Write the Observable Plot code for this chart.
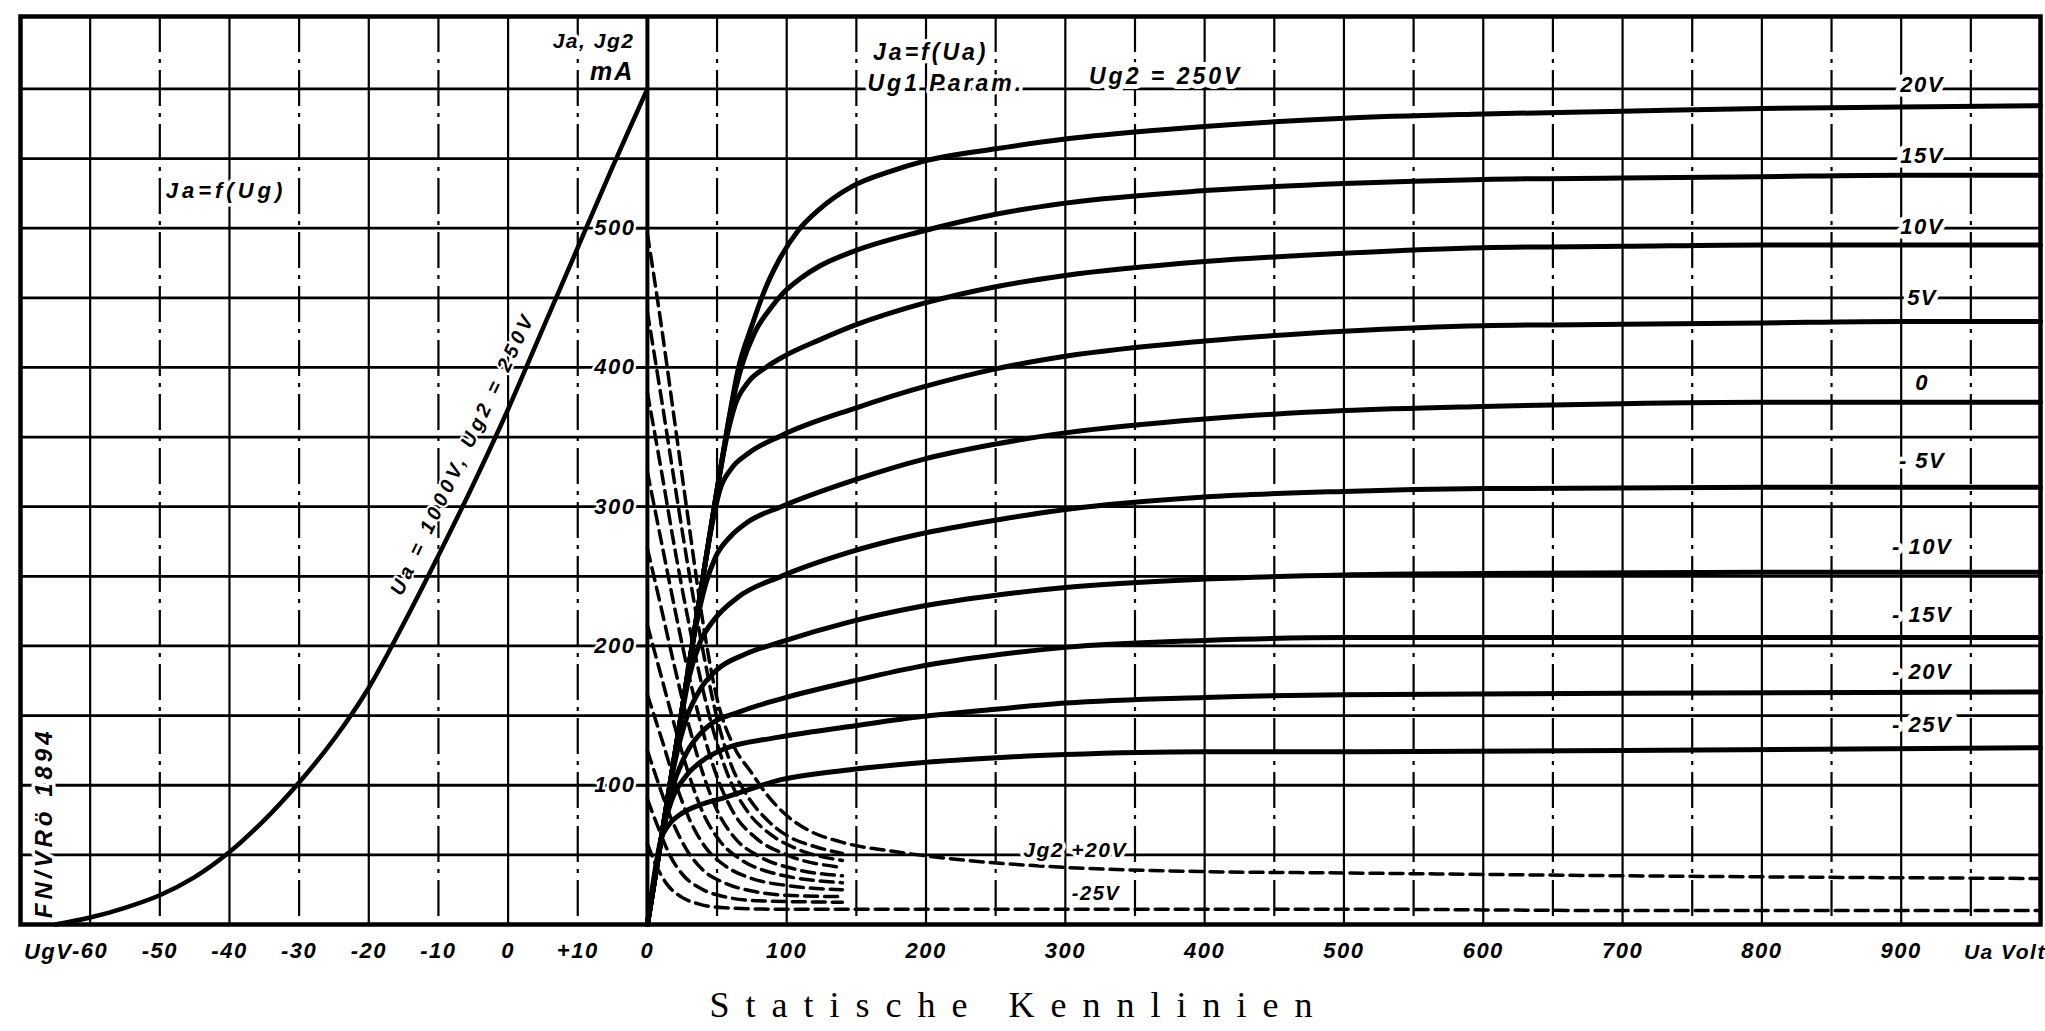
<!DOCTYPE html>
<html>
<head>
<meta charset="utf-8">
<script src="https://cdn.jsdelivr.net/npm/d3@7"></script>
<script src="https://cdn.jsdelivr.net/npm/@observablehq/plot@0.6"></script>
<style>
  html, body { margin: 0; padding: 0; background: #fff; overflow: hidden; width: 2045px; height: 1031px; }
  #chart { position: absolute; left: 0; top: 0; }
  #title { position: absolute; top: 984px; left: 1019px; transform: translateX(-50%); white-space: nowrap;
           font-family: "Liberation Serif", "DejaVu Serif", serif; font-size: 36px; letter-spacing: 16px; color: #000; }
</style>
</head>
<body>
<div id="chart"></div>
<div id="title">Statische Kennlinien</div>
<script>
// ---------- data ----------
// Left panel: Ja = f(Ug)  (Ua = 1000 V, Ug2 = 250 V)
const ugPoints = [-65, -60, -55, -50, -45, -40, -35, -30, -25, -20, -15, -10, -5, 0, 5, 10, 15, 20];
const jaOfUg   = [0, 5, 12, 21, 34, 52, 75, 102, 133, 170, 216, 265, 316, 370, 428, 486, 544, 600];

// Right panel: Ja = f(Ua), Ug1 parameter  [Ua (V), Ja (mA)]
const ug1Levels = [20, 15, 10, 5, 0, -5, -10, -15, -20, -25];
const ja_p20 = [[0,0],[10,62],[25,155],[40,250],[50,312],[58,360],[65,398],[75,430],[84,455],[95,478],[108,498],[124,514],[147,530],[175,541],[198,548],[250,557],[300,564],[350,569],[400,573],[500,579],[600,582],[700,584],[800,586],[900,587],[1000,588]];
const ja_p15 = [[0,0],[10,62],[25,155],[40,250],[50,312],[60,370],[68,402],[77,425],[88,442],[98,454],[110,464],[124,473],[147,483],[198,498],[250,510],[300,518],[400,527],[500,532],[600,535],[700,536],[800,537],[900,538],[1000,538]];
const ja_p10 = [[0,0],[10,62],[25,155],[40,250],[50,312],[57,350],[63,373],[72,389],[85,400],[98,408],[124,420],[148,430],[198,446],[250,458],[300,466],[400,476],[500,482],[600,486],[700,487],[800,488],[900,488],[1000,488]];
const ja_p5  = [[0,0],[10,62],[25,155],[40,250],[46,285],[52,312],[60,327],[72,338],[96,351],[150,371],[198,386],[250,399],[300,408],[400,419],[500,426],[600,430],[700,431],[800,432],[900,433],[1000,433]];
const ja_0   = [[0,0],[10,62],[25,155],[35,215],[42,245],[49,264],[60,279],[72,289],[96,300],[151,320],[198,334],[250,345],[300,353],[400,363],[500,369],[600,372],[700,374],[800,375],[900,375],[1000,375]];
const ja_m5  = [[0,0],[10,62],[22,135],[30,178],[38,203],[48,219],[65,235],[96,250],[144,267],[194,280],[254,291],[300,298],[400,307],[500,311],[600,313],[800,314],[1000,314]];
const ja_m10 = [[0,0],[10,62],[20,118],[28,148],[38,169],[50,183],[70,194],[96,203],[144,217],[194,228],[254,237],[300,242],[400,248],[500,251],[600,252],[800,253],[1000,253]];
const ja_m15 = [[0,0],[10,62],[18,98],[28,123],[42,141],[67,153],[96,162],[144,174],[194,185],[254,194],[300,199],[400,204],[500,206],[700,206],[1000,206]];
const ja_m20 = [[0,0],[10,62],[17,88],[28,107],[40,118],[55,126],[91,134],[144,142],[194,149],[254,155],[300,159],[400,163],[500,165],[700,166],[1000,167]];
const ja_m25 = [[0,0],[10,62],[15,71],[25,80],[38,86],[55,91],[96,104],[144,111],[194,116],[254,120],[300,122],[400,124],[500,124],[700,125],[1000,127]];
const jaSeries = [ja_p20, ja_p15, ja_p10, ja_p5, ja_0, ja_m5, ja_m10, ja_m15, ja_m20, ja_m25];

// Screen-grid current Jg2 = f(Ua) (dashed)  [Ua (V), Jg2 (mA)]
const jg2_p20 = [[0,496],[10,430],[20,358],[30,286],[40,216],[50,162],[62,128],[74,110],[86,93],[98,80],[115,68],[140,59],[180,52],[230,46],[300,41],[400,38],[500,37],[700,35],[1000,33]];
const jg2_p15 = [[0,440],[10,378],[20,314],[30,252],[40,196],[50,148],[60,115],[72,92],[86,75],[100,64],[120,56],[140,51]];
const jg2_p10 = [[0,382],[10,326],[20,268],[30,215],[40,168],[50,130],[60,102],[72,81],[88,65],[108,54],[140,46]];
const jg2_p5  = [[0,325],[10,275],[20,225],[30,178],[40,138],[50,106],[62,80],[78,62],[100,50],[140,41]];
const jg2_0   = [[0,270],[10,227],[20,183],[30,142],[40,108],[50,82],[62,63],[80,49],[105,40],[140,35]];
const jg2_m5  = [[0,215],[10,178],[20,141],[30,107],[40,80],[52,60],[68,46],[90,37],[140,30]];
const jg2_m10 = [[0,165],[10,134],[20,102],[30,76],[42,55],[56,42],[75,33],[100,28],[140,25]];
const jg2_m15 = [[0,125],[8,101],[18,74],[28,54],[40,39],[55,30],[75,24],[100,21],[140,20]];
const jg2_m20 = [[0,90],[8,69],[16,50],[26,35],[38,26],[55,20],[80,17],[140,16]];
const jg2_m25 = [[0,58],[6,43],[14,29],[24,20],[36,15],[55,12],[90,11],[140,11],[300,11],[500,11],[700,10],[1000,10]];
const jg2Series = [jg2_p20, jg2_p15, jg2_p10, jg2_p5, jg2_0, jg2_m5, jg2_m10, jg2_m15, jg2_m20, jg2_m25];

// Ticks and grid
const ugTicks = [-60, -50, -40, -30, -20, -10, 0, 10];
const ugTickText = ["-60", "-50", "-40", "-30", "-20", "-10", "0", "+10"];
const uaTicks = [0, 100, 200, 300, 400, 500, 600, 700, 800, 900];
const uaTickText = ["0", "100", "200", "300", "400", "500", "600", "700", "800", "900"];
const mATicks = [100, 200, 300, 400, 500];
const mAGrid = [50, 100, 150, 200, 250, 300, 350, 400, 450, 500, 550, 600];
const ugGrid = [-60, -50, -40, -30, -20, -10, 0, 10];
const uaGrid = [50, 100, 150, 200, 250, 300, 350, 400, 450, 500, 550, 600, 650, 700, 750, 800, 850, 900, 950];

// Curve labels (right side)
const ug1LabelText = ["20V", "15V", "10V", "5V", "0", "- 5V", "- 10V", "- 15V", "- 20V", "- 25V"];
const ug1LabelJa   = [603, 552, 501, 450, 389, 333, 271, 222, 181, 143];

// ---------- helpers ----------
// shared grid: 10 V of Ug occupy the same width as 50 V of Ua; Ug = +20 V sits on Ua = 0
const ux = ug => (ug - 20) * 5;

const jaRows = jaSeries.flatMap((s, i) => s.map(([ua, ja]) => ({ug1: ug1Levels[i], ua, ja})));
const jg2Rows = jg2Series.flatMap((s, i) => s.map(([ua, jg]) => ({ug1: ug1Levels[i], ua, jg})));
const jaUgRows = ugPoints.map((ug, i) => ({x: ux(ug), ja: jaOfUg[i]}));

const vSolid = [...ugGrid.filter(g => g % 20 === 0).map(ux), ...uaGrid.filter(g => g % 100 === 0)];
const vDash  = [...ugGrid.filter(g => g % 20 !== 0).map(ux), ...uaGrid.filter(g => g % 100 !== 0)];

const xTickPos = [...ugTicks.map(ux), ...uaTicks];
const xTickLab = new Map([...ugTicks.map((u, i) => [ux(u), ugTickText[i]]), ...uaTicks.map((u, i) => [u, uaTickText[i]])]);

const halo = {stroke: "white", strokeWidth: 7, fill: "black", paintOrder: "stroke"};

const chart = Plot.plot({
  width: 2045, height: 985,
  marginLeft: 20, marginRight: 5, marginTop: 16, marginBottom: 61,
  x: {type: "linear", domain: [-450, 1000], label: null},
  y: {type: "linear", domain: [0, 652], axis: null, label: null},
  style: {background: "#fff", color: "#000", overflow: "visible"},
  marks: [
    Plot.ruleY(mAGrid, {stroke: "#000", strokeWidth: 2.8}),
    Plot.ruleX(vSolid, {stroke: "#000", strokeWidth: 2.2}),
    Plot.ruleX(vDash, {stroke: "#000", strokeWidth: 2.2, strokeDasharray: "36,7,4,7"}),
    Plot.ruleX([0], {stroke: "#000", strokeWidth: 4}),
    Plot.frame({stroke: "#000", strokeWidth: 4.5}),

    // Ja = f(Ug)
    Plot.line(jaUgRows, {x: "x", y: "ja", curve: "catmull-rom", stroke: "#000", strokeWidth: 4.5}),
    // Jg2 dashed family
    Plot.line(jg2Rows, {x: "ua", y: "jg", z: "ug1", curve: "monotone-x", stroke: "#000", strokeWidth: 3.5, strokeDasharray: "13,7"}),
    // Ja = f(Ua) family
    Plot.line(jaRows, {x: "ua", y: "ja", z: "ug1", curve: "monotone-x", stroke: "#000", strokeWidth: 5}),

    // y tick labels beside the Ua = 0 axis
    Plot.ruleY(mATicks, {x1: -8, x2: 0, stroke: "#000", strokeWidth: 2.5}),
    Plot.text(mATicks, {x: 0, y: d => d, dx: -12, text: d => String(d), textAnchor: "end", fontSize: 22, ...halo, strokeWidth: 5}),

    // x axis
    Plot.axisX({ticks: xTickPos, tickFormat: d => xTickLab.get(d), tickSize: 0, tickPadding: 18, fontSize: 22, label: null}),
    Plot.text(["UgV"], {x: ux(-69.5), frameAnchor: "bottom", dy: 34, text: d => d, textAnchor: "start", fontSize: 22}),
    Plot.text(["Ua Volt"], {x: 945, frameAnchor: "bottom", dy: 34, text: d => d, textAnchor: "start", fontSize: 21}),

    // curve labels
    Plot.text(ug1LabelText, {x: 915, y: (d, i) => ug1LabelJa[i], text: d => d, fontSize: 22, ...halo, strokeWidth: 9}),
    Plot.text(["Jg2 +20V"], {x: 307, y: 53, text: d => d, fontSize: 21, ...halo}),
    Plot.text(["-25V"], {x: 322, y: 22, text: d => d, fontSize: 20, ...halo}),
    Plot.text(["Ja=f(Ua)"], {x: 162, y: 626, text: d => d, textAnchor: "start", fontSize: 23, ...halo}),
    Plot.text(["Ug1 Param."], {x: 158, y: 604, text: d => d, textAnchor: "start", fontSize: 23, ...halo}),
    Plot.text(["Ug2 = 250V"], {x: 317, y: 609, text: d => d, textAnchor: "start", fontSize: 23, ...halo, strokeWidth: 10}),
    Plot.text(["Ja=f(Ug)"], {x: ux(-40.5), y: 527, text: d => d, fontSize: 22, ...halo}),
    Plot.text(["Ja, Jg2"], {x: 0, y: 634, dx: -13, text: d => d, textAnchor: "end", fontSize: 21, ...halo}),
    Plot.text(["mA"], {x: 0, y: 612, dx: -13, text: d => d, textAnchor: "end", fontSize: 25, ...halo}),
    Plot.text(["Ua = 1000V, Ug2 = 250V"], {x: ux(-6.5), y: 338, rotate: -64.5, text: d => d, fontSize: 20, ...halo, strokeWidth: 4}),
    Plot.text(["FN/VRö 1894"], {x: ux(-66.6), y: 73, rotate: -90, text: d => d, fontSize: 24, ...halo})
  ]
});

const svg = d3.select(chart);
svg.style("font-family", "'Liberation Sans', Arial, sans-serif")
   .style("font-style", "italic")
   .style("font-weight", "bold")
   .style("letter-spacing", "1.5px");
const spacing = new Map([
  ["Ua = 1000V, Ug2 = 250V", "4px"], ["Ja=f(Ua)", "3px"], ["Ug1 Param.", "3px"], ["Ug2 = 250V", "3px"],
  ["Ja=f(Ug)", "4px"], ["FN/VRö 1894", "4px"], ["mA", "2px"]
]);
svg.selectAll("text").each(function() {
  const s = spacing.get(this.textContent);
  if (s) d3.select(this).style("letter-spacing", s);
});
document.getElementById("chart").appendChild(chart);
</script>
</body>
</html>
